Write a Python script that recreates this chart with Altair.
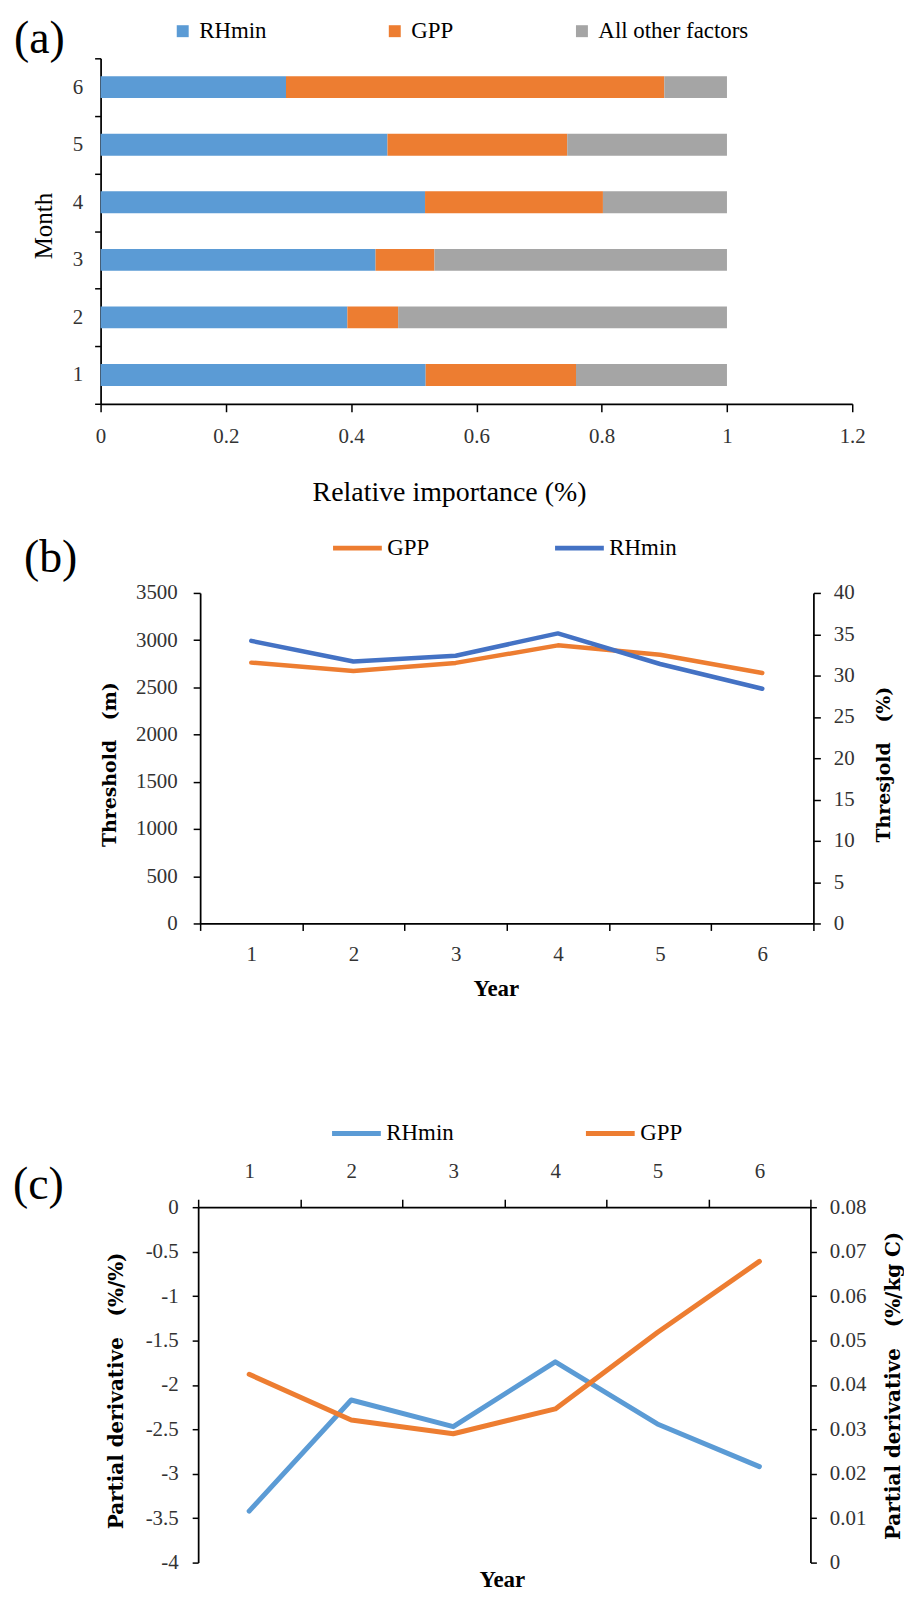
import altair as alt
import pandas as pd

# ---------------- data ----------------
months = [1, 2, 3, 4, 5, 6]
factors = ["RHmin", "GPP", "All other factors"]
rhmin_importance = [0.519, 0.394, 0.439, 0.518, 0.458, 0.296]
gpp_importance = [0.240, 0.081, 0.094, 0.284, 0.287, 0.604]
other_importance = [0.241, 0.525, 0.467, 0.198, 0.255, 0.100]

years = [1, 2, 3, 4, 5, 6]
gpp_threshold_m = [2762, 2674, 2759, 2945, 2846, 2653]
rhmin_threshold_pct = [34.2, 31.7, 32.4, 35.1, 31.4, 28.4]

rhmin_partial = [-3.42, -2.17, -2.47, -1.74, -2.44, -2.92]
gpp_partial = [0.0424, 0.0321, 0.0290, 0.0346, 0.0518, 0.0678]

ticks_a_x = [0, 0.2, 0.4, 0.6, 0.8, 1, 1.2]
ticks_b_left = [0, 500, 1000, 1500, 2000, 2500, 3000, 3500]
ticks_b_right = [0, 5, 10, 15, 20, 25, 30, 35, 40]
ticks_c_left = [0, -0.5, -1, -1.5, -2, -2.5, -3, -3.5, -4]
ticks_c_right = [0, 0.01, 0.02, 0.03, 0.04, 0.05, 0.06, 0.07, 0.08]

# ---------------- styling ----------------
SERIF = "Liberation Serif"
BOLD_SERIF = "DejaVu Serif"
INK = "#000000"
LABEL = "#333333"
PLAIN = "'' + datum.value"


def ax(**kw):
    base = dict(grid=False, domainColor=INK, domainWidth=1.75, tickColor=INK,
                tickWidth=1.5, labelFont=SERIF, labelFontSize=21, labelColor=LABEL,
                titleColor=INK, labelOverlap=False)
    base.update(kw)
    return alt.Axis(**base)


def panel_label(text, x, y):
    return alt.Chart(pd.DataFrame({"t": [text]})).mark_text(
        font=SERIF, fontSize=46, align="left", baseline="alphabetic", color=INK
    ).encode(text="t:N", x=alt.value(x), y=alt.value(y))


def line_legend(x, y, pad):
    return alt.Legend(orient="none", legendX=x, legendY=y, direction="horizontal",
                      title=None, symbolType="stroke", symbolSize=2400,
                      symbolStrokeWidth=5, labelFont=SERIF, labelFontSize=23,
                      labelColor=INK, labelOffset=3, columnPadding=pad, padding=0)


# ---------------- panel (a) ----------------
rows = []
for k, (name, vals) in enumerate(zip(factors, [rhmin_importance, gpp_importance, other_importance])):
    for m, v in zip(months, vals):
        rows.append({"Month": m, "Factor": name, "Share": v, "k": k})
df_a = pd.DataFrame(rows)

bars_a = alt.Chart(df_a).mark_bar(size=22).encode(
    x=alt.X("Share:Q", stack="zero", scale=alt.Scale(domain=[0, 1.2], nice=False),
            axis=ax(values=ticks_a_x, labelExpr=PLAIN, tickSize=8,
                    labelPadding=14, labelFlush=False,
                    title="Relative importance (%)", titleFont=SERIF, titleFontSize=28,
                    titleFontWeight="normal", titleX=350, titleY=89,
                    titleBaseline="middle", titleAlign="center")),
    y=alt.Y("Month:O", sort="descending", scale=alt.Scale(paddingInner=0, paddingOuter=0),
            axis=ax(tickBand="extent", tickSize=6, labelPadding=12, labelAngle=0,
                    title="Month", titleFont=SERIF, titleFontSize=25,
                    titleFontWeight="normal", titleAngle=270, titleX=-57, titleY=168,
                    titleBaseline="middle", titleAlign="center")),
    color=alt.Color("Factor:N",
                    scale=alt.Scale(domain=factors, range=["#5B9BD5", "#ED7D31", "#A5A5A5"]),
                    legend=alt.Legend(orient="none", legendX=71, legendY=-39,
                                      direction="horizontal", title=None,
                                      symbolType="square", symbolSize=144,
                                      symbolStrokeWidth=0, labelFont=SERIF,
                                      labelFontSize=23, labelColor=INK, labelOffset=5,
                                      columnPadding=117, padding=0)),
    order=alt.Order("k:Q"),
)
panel_a = alt.layer(bars_a, panel_label("(a)", -87, -5)).properties(width=755, height=347)

# ---------------- panel (b) ----------------
df_b = pd.DataFrame({
    "Year": years + years,
    "Series": ["GPP"] * 6 + ["RHmin"] * 6,
    "Value": gpp_threshold_m + rhmin_threshold_pct,
})
x_b = alt.X("Year:O", scale=alt.Scale(range=[100, 716], paddingInner=0, paddingOuter=0),
            axis=ax(orient="bottom", tickBand="extent", tickSize=7, labelPadding=13,
                    labelAngle=0, title="Year", titleFont=SERIF, titleFontSize=23,
                    titleFontWeight="bold", titleX=397, titleY=65,
                    titleBaseline="middle", titleAlign="center"))
color_b = alt.Color("Series:N",
                    scale=alt.Scale(domain=["GPP", "RHmin"], range=["#ED7D31", "#4472C4"]),
                    legend=line_legend(231, -72, 115))
line_b_gpp = alt.Chart(df_b).transform_filter(alt.datum.Series == "GPP").mark_line(
    strokeWidth=4.5, strokeCap="round", strokeJoin="round").encode(
    x=x_b, color=color_b,
    y=alt.Y("Value:Q", scale=alt.Scale(domain=[0, 3500], nice=False),
            axis=ax(orient="left", offset=-100, values=ticks_b_left, labelExpr=PLAIN,
                    tickSize=7, labelPadding=16, title="Threshold\u00a0\u00a0\u00a0(m)",
                    titleFont=BOLD_SERIF, titleFontSize=19, titleFontWeight="bold",
                    titleAngle=270, titleX=-91, titleY=172,
                    titleBaseline="middle", titleAlign="center")),
)
line_b_rh = alt.Chart(df_b).transform_filter(alt.datum.Series == "RHmin").mark_line(
    strokeWidth=4.5, strokeCap="round", strokeJoin="round").encode(
    x=x_b, color=color_b,
    y=alt.Y("Value:Q", scale=alt.Scale(domain=[0, 40], nice=False),
            axis=ax(orient="right", values=ticks_b_right, labelExpr=PLAIN, tickSize=7,
                    labelPadding=13, title="Thresjold\u00a0\u00a0\u00a0(%)",
                    titleFont=BOLD_SERIF, titleFontSize=19, titleFontWeight="bold",
                    titleAngle=270, titleX=70, titleY=172, titleBaseline="middle",
                    titleAlign="center")),
)
panel_b = alt.layer(line_b_gpp, line_b_rh, panel_label("(b)", -77, -21)).resolve_scale(
    y="independent").properties(width=716, height=332)

# ---------------- panel (c) ----------------
df_c = pd.DataFrame({
    "Year": years + years,
    "Series": ["RHmin"] * 6 + ["GPP"] * 6,
    "Value": rhmin_partial + gpp_partial,
})
x_c = alt.X("Year:O", scale=alt.Scale(range=[98, 713], paddingInner=0, paddingOuter=0),
            axis=ax(orient="top", offset=-95, tickBand="extent", tickSize=8,
                    labelPadding=18, labelAngle=0, title="Year", titleFont=SERIF,
                    titleFontSize=23, titleFontWeight="bold", titleX=403, titleY=374,
                    titleBaseline="middle", titleAlign="center"))
color_c = alt.Color("Series:N",
                    scale=alt.Scale(domain=["RHmin", "GPP"], range=["#5B9BD5", "#ED7D31"]),
                    legend=line_legend(230, -6, 122))
line_c_rh = alt.Chart(df_c).transform_filter(alt.datum.Series == "RHmin").mark_line(
    strokeWidth=5, strokeCap="round", strokeJoin="round").encode(
    x=x_c, color=color_c,
    y=alt.Y("Value:Q", scale=alt.Scale(domain=[-4, 0], nice=False, range=[452, 95]),
            axis=ax(orient="left", offset=-98, values=ticks_c_left, labelExpr=PLAIN,
                    tickSize=6, labelPadding=14,
                    title="Partial derivative\u00a0\u00a0\u00a0(%/%)", titleFont=BOLD_SERIF,
                    titleFontSize=20, titleFontWeight="bold", titleAngle=270,
                    titleX=-82, titleY=279, titleBaseline="middle", titleAlign="center")),
)
line_c_gpp = alt.Chart(df_c).transform_filter(alt.datum.Series == "GPP").mark_line(
    strokeWidth=5, strokeCap="round", strokeJoin="round").encode(
    x=x_c, color=color_c,
    y=alt.Y("Value:Q", scale=alt.Scale(domain=[0, 0.08], nice=False, range=[452, 95]),
            axis=ax(orient="right", values=ticks_c_right, labelExpr=PLAIN,
                    tickSize=6, labelPadding=13,
                    title="Partial derivative\u00a0\u00a0\u00a0(%/kg\u00a0C)",
                    titleFont=BOLD_SERIF, titleFontSize=20, titleFontWeight="bold",
                    titleAngle=270, titleX=83, titleY=274, titleBaseline="middle",
                    titleAlign="center")),
)
panel_c = alt.layer(line_c_rh, line_c_gpp, panel_label("(c)", -88, 87)).resolve_scale(
    y="independent").properties(width=713, height=452)

chart = alt.vconcat(panel_a, panel_b, panel_c, spacing=190, bounds="flush").resolve_scale(
    x="independent", y="independent", color="independent"
).properties(
    padding={"left": 4, "top": 4, "right": 0, "bottom": 0}, background="white"
).configure_view(stroke="transparent")

chart.save("out.html", embed_options={"renderer": "svg", "actions": False})
